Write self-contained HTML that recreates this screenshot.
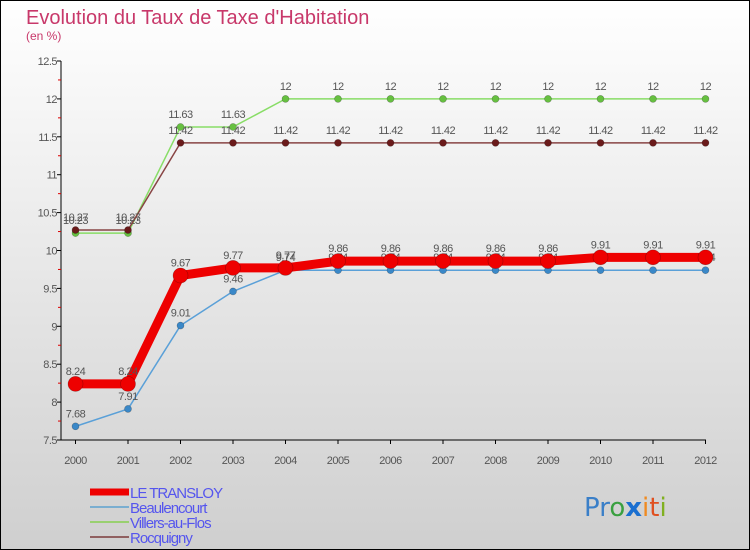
<!DOCTYPE html>
<html><head><meta charset="utf-8"><style>
body{margin:0}
#wrap{position:relative;width:750px;height:550px;overflow:hidden;font-family:"Liberation Sans",sans-serif}
</style></head><body>
<div id="wrap">
<svg id="svg" width="750" height="550" xmlns="http://www.w3.org/2000/svg" font-family="Liberation Sans, sans-serif">
<defs><linearGradient id="bg" x1="0" y1="0" x2="0" y2="1"><stop offset="0" stop-color="#ffffff"/><stop offset="1" stop-color="#cfcfcf"/></linearGradient></defs>
<rect x="0.5" y="0.5" width="749" height="549" fill="url(#bg)" stroke="#000"/>
<text x="26" y="24" font-size="20" fill="#c8386a">Evolution du Taux de Taxe d'Habitation</text>
<text x="26" y="40" font-size="12" fill="#c8386a">(en %)</text>
<g id="axes"></g>
<g id="series"></g>
<g id="legend"></g>
<text x="584" y="516" font-size="26" font-family="DejaVu Sans, sans-serif"><tspan fill="#3a7fc8">Pr</tspan><tspan fill="#3aa040">o</tspan><tspan fill="#1a6fd0" font-weight="bold">x</tspan><tspan fill="#f08a20">i</tspan><tspan fill="#e05020">t</tspan><tspan fill="#80b020">i</tspan></text>
</svg>
</div>
<script>
const years=[2000,2001,2002,2003,2004,2005,2006,2007,2008,2009,2010,2011,2012];
const yTicks=[7.5,8,8.5,9,9.5,10,10.5,11,11.5,12,12.5];
const seriesNames=["LE TRANSLOY","Beaulencourt","Villers-au-Flos","Rocquigny"];
const transloy=[8.24,8.24,9.67,9.77,9.77,9.86,9.86,9.86,9.86,9.86,9.91,9.91,9.91];
const beaulencourt=[7.68,7.91,9.01,9.46,9.74,9.74,9.74,9.74,9.74,9.74,9.74,9.74,9.74];
const villers=[10.23,10.23,11.63,11.63,12,12,12,12,12,12,12,12,12];
const rocquigny=[10.27,10.27,11.42,11.42,11.42,11.42,11.42,11.42,11.42,11.42,11.42,11.42,11.42];

const NS="http://www.w3.org/2000/svg";
function xs(i){return 75.5+i*52.5;}
function ys(v){return 440-(v-7.5)*75.8;}
function mk(tag,attrs,parent){const e=document.createElementNS(NS,tag);for(const k in attrs)e.setAttribute(k,attrs[k]);parent.appendChild(e);return e;}
const axes=document.getElementById('axes');
let yax=mk('line',{x1:61,y1:ys(12.5),x2:61,y2:440,stroke:'#000'},axes);


let xax=mk('line',{x1:61,y1:440,x2:706,y2:440,stroke:'#000'},axes);


yTicks.forEach(v=>{
  mk('line',{x1:57,y1:ys(v),x2:61,y2:ys(v),stroke:'#000'},axes);
  if(v<12.5)mk('line',{x1:58,y1:ys(v+0.25),x2:61,y2:ys(v+0.25),stroke:'#d00'},axes);
  const t=mk('text',{x:57,y:ys(v)+4,'text-anchor':'end','font-size':11,fill:'#555','letter-spacing':'-0.5'},axes);
  t.textContent=String(v);
  
  
});
years.forEach((y,i)=>{
  mk('line',{x1:xs(i),y1:440,x2:xs(i),y2:444,stroke:'#000'},axes);
  const t=mk('text',{x:xs(i),y:464,'text-anchor':'middle','font-size':11,fill:'#555','letter-spacing':'-0.5'},axes);
  t.textContent=String(y);
  
  
});
const sg=document.getElementById('series');
const defs=[
 {d:villers,c:'#88dd66',dot:'#66c040',w:1.5,r:3.5,name:'villers-au-flos'},
 {d:rocquigny,c:'#884444',dot:'#6a1a1a',w:1.5,r:3.5,name:'rocquigny'},
 {d:beaulencourt,c:'#5aa0d8',dot:'#3a88c8',w:1.5,r:3.5,name:'beaulencourt'},
 {d:transloy,c:'#ee0000',dot:'#ee0000',w:9,r:7.5,name:'le-transloy'}
];
defs.forEach(s=>{
  const g=mk('g',{},sg);
  
  
  const p=mk('polyline',{points:s.d.map((v,i)=>xs(i)+','+ys(v)).join(' '),fill:'none',stroke:s.c,'stroke-width':s.w,'stroke-linejoin':'round'},g);
  
  
  s.d.forEach((v,i)=>{
    const c=mk('circle',{cx:xs(i),cy:ys(v),r:s.r,fill:s.dot,stroke:'rgba(0,0,0,0.3)','stroke-width':0.6},g);
    
    
    const t=mk('text',{x:xs(i),y:ys(v)-9,'text-anchor':'middle','font-size':11,fill:'#555','letter-spacing':'-0.5'},g);
    t.textContent=String(v);
    
    
  });
});
const lg=document.getElementById('legend');
const lc=['#ee0000','#7aaed0','#99d070','#906060'];
const lw=[7,2,2,2];
seriesNames.forEach((n,i)=>{
  const y=492+i*15;
  const g=mk('g',{},lg);
  
  
  mk('line',{x1:90,y1:y,x2:129,y2:y,stroke:lc[i],'stroke-width':lw[i]},g);
  const t=mk('text',{x:130,y:y+6,'font-size':15,fill:'#5555ee','letter-spacing':'-1'},g);
  t.textContent=n;
});
</script>
</body></html>
